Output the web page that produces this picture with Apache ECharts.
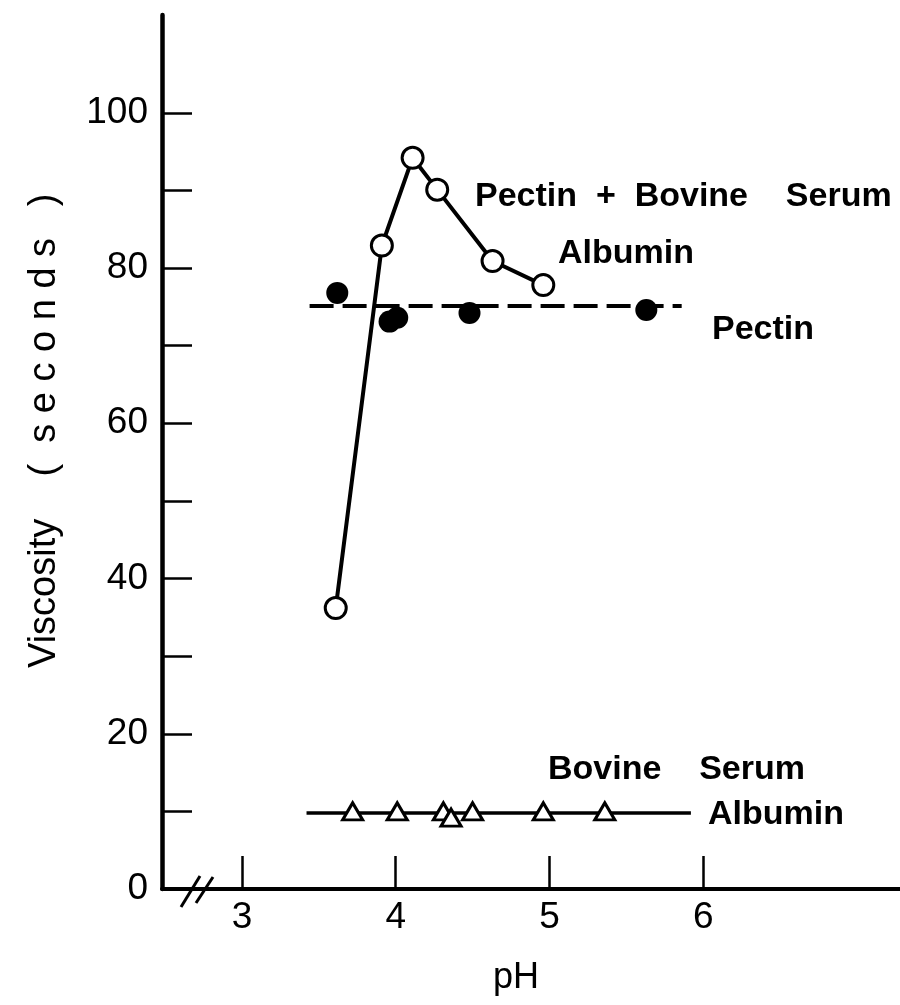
<!DOCTYPE html>
<html>
<head>
<meta charset="utf-8">
<script src="https://cdn.jsdelivr.net/npm/echarts@6/dist/echarts.min.js"></script>
<style>
    html, body { margin: 0; padding: 0; background: #fff; }
    #chart { width: 900px; height: 1005px; }
</style>
</head>
<body>
<div id="chart"></div>
<script>
    // Pectin + bovine serum albumin (open circles, solid line)
    const mixPH = [3.61, 3.91, 4.11, 4.27, 4.63, 4.96];
    const mixVisc = [36.2, 82.9, 94.2, 90.1, 80.9, 77.8];

    // Pectin alone (filled circles) and its dashed level
    const pectinPH = [3.62, 3.96, 4.01, 4.48, 5.63];
    const pectinVisc = [76.8, 73.1, 73.6, 74.2, 74.6];
    const pectinLinePH = [3.44, 5.86];
    const pectinLineVisc = [75.1, 75.1];

    // Bovine serum albumin alone (triangles) and its level
    const bsaPH = [3.72, 4.01, 4.31, 4.36, 4.50, 4.96, 5.36];
    const bsaVisc = [10.0, 10.0, 10.0, 9.2, 10.0, 10.0, 10.0];
    const bsaLinePH = [3.42, 5.92];
    const bsaLineVisc = [9.8, 9.8];

    // axis ticks
    const xTicks = [3, 4, 5, 6];
    const yTicks = [0, 10, 20, 30, 40, 50, 60, 70, 80, 90, 100];
    const yLabels = [0, 20, 40, 60, 80, 100];

    const pairs = (xs, ys) => xs.map((x, i) => [x, ys[i]]);

    const font = 'Liberation Sans';
    const noteFont = 'bold 34px "Liberation Sans"';
    const chart = echarts.init(document.getElementById('chart'));

    chart.setOption({
        animation: false,
        backgroundColor: '#fff',
        grid: {
            left: 162,
            right: 0,
            top: 15,
            bottom: 116
        },
        xAxis: {
            type: 'value',
            min: 2.48,
            max: 7.28,
            axisLine: { lineStyle: { color: '#000', width: 4 } },
            axisTick: {
                inside: true,
                length: 33,
                customValues: xTicks,
                lineStyle: { color: '#000', width: 2.5 }
            },
            axisLabel: {
                customValues: xTicks,
                margin: 10,
                color: '#000',
                fontFamily: font,
                fontSize: 37
            },
            splitLine: { show: false }
        },
        yAxis: {
            type: 'value',
            min: 0,
            max: 112.6,
            axisLine: { lineStyle: { color: '#000', width: 4.5 } },
            axisTick: {
                inside: true,
                length: 30,
                customValues: yTicks,
                lineStyle: { color: '#000', width: 2.5 }
            },
            axisLabel: {
                customValues: yLabels,
                margin: 14,
                color: '#000',
                fontFamily: font,
                fontSize: 37
            },
            splitLine: { show: false }
        },
        graphic: [
            // axis break
            { type: 'line', shape: { x1: 181, y1: 907, x2: 200, y2: 876 }, style: { stroke: '#000', lineWidth: 3 } },
            { type: 'line', shape: { x1: 196, y1: 903, x2: 213, y2: 877 }, style: { stroke: '#000', lineWidth: 3 } },
            // axis names
            {
                type: 'text', x: 45, y: 668, rotation: Math.PI / 2,
                style: { text: 'Viscosity    (  s e c o n d s   )', font: '38px "Liberation Sans"', fill: '#000', align: 'left', verticalAlign: 'middle' }
            },
            {
                type: 'text', x: 516, y: 978,
                style: { text: 'pH', font: '36px "Liberation Sans"', fill: '#000', align: 'center', verticalAlign: 'middle' }
            },
            // curve labels
            { type: 'text', x: 475, y: 197, style: { text: 'Pectin  +  Bovine    Serum', font: noteFont, fill: '#000', verticalAlign: 'middle' } },
            { type: 'text', x: 558, y: 254, style: { text: 'Albumin', font: noteFont, fill: '#000', verticalAlign: 'middle' } },
            { type: 'text', x: 712, y: 330, style: { text: 'Pectin', font: noteFont, fill: '#000', verticalAlign: 'middle' } },
            { type: 'text', x: 548, y: 770, style: { text: 'Bovine    Serum', font: noteFont, fill: '#000', verticalAlign: 'middle' } },
            { type: 'text', x: 708, y: 815, style: { text: 'Albumin', font: noteFont, fill: '#000', verticalAlign: 'middle' } }
        ],
        series: [
            {
                name: 'Bovine Serum Albumin level',
                type: 'line',
                data: pairs(bsaLinePH, bsaLineVisc),
                symbol: 'none',
                lineStyle: { color: '#000', width: 3.5 },
                z: 2
            },
            {
                name: 'Bovine Serum Albumin',
                type: 'scatter',
                data: pairs(bsaPH, bsaVisc),
                symbol: 'triangle',
                symbolSize: [20, 17],
                itemStyle: { color: '#fff', borderColor: '#000', borderWidth: 3, opacity: 1 },
                z: 3
            },
            {
                name: 'Pectin level',
                type: 'line',
                data: pairs(pectinLinePH, pectinLineVisc),
                symbol: 'none',
                lineStyle: { color: '#000', width: 4, type: [24, 9] },
                z: 2
            },
            {
                name: 'Pectin',
                type: 'scatter',
                data: pairs(pectinPH, pectinVisc),
                symbol: 'circle',
                symbolSize: 22,
                itemStyle: { color: '#000', opacity: 1 },
                z: 3
            },
            {
                name: 'Pectin + Bovine Serum Albumin',
                type: 'line',
                data: pairs(mixPH, mixVisc),
                symbol: 'circle',
                symbolSize: 21,
                showAllSymbol: true,
                lineStyle: { color: '#000', width: 4 },
                itemStyle: { color: '#fff', borderColor: '#000', borderWidth: 3 },
                z: 4
            }
        ]
    });
</script>
</body>
</html>
